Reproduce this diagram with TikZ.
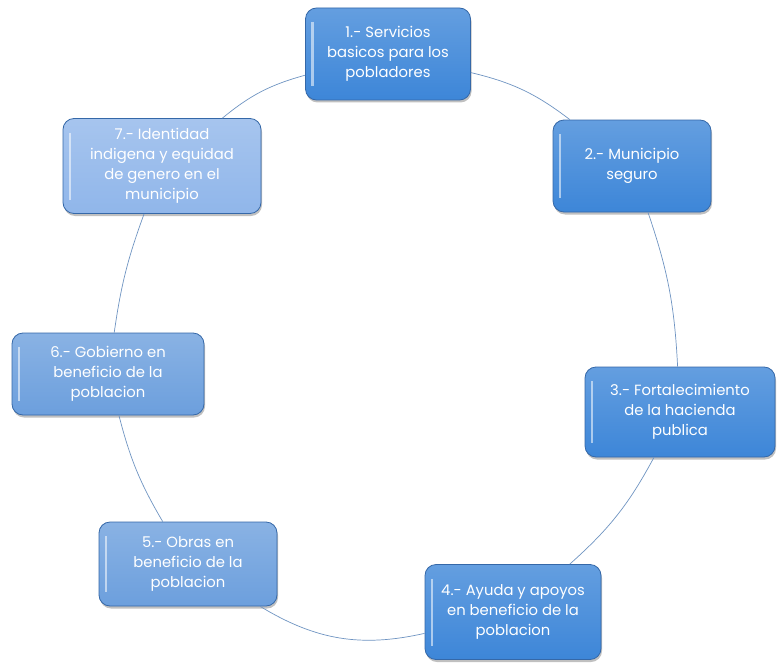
\documentclass[tikz,border=0pt]{standalone}
\usepackage{fontspec}
\setmainfont{Poppins}
\usetikzlibrary{shadows}
\definecolor{bdark}{HTML}{3D86D8}
\definecolor{bmid}{HTML}{6C9FDD}
\definecolor{blight}{HTML}{90B6EA}
\definecolor{bedge}{HTML}{3568A8}
\definecolor{linkc}{HTML}{6F94C2}
\tikzset{
  stepbox/.style={rounded corners=11pt, draw=bedge, line width=0.8pt,
    text=white, align=center, inner sep=4pt,
    font=\fontsize{14.8}{20}\selectfont,
    drop shadow={shadow xshift=1pt, shadow yshift=-2.5pt, opacity=.35, fill=black!70},
    path picture={\draw[white, opacity=.55, line width=2.5pt]
      ([xshift=7pt,yshift=-14pt]path picture bounding box.north west) --
      ([xshift=7pt,yshift=14pt]path picture bounding box.south west);}},
  darkbox/.style={stepbox, top color=bdark!80!white, bottom color=bdark},
  midbox/.style={stepbox, top color=bmid!80!white, bottom color=bmid},
  lightbox/.style={stepbox, top color=blight!80!white, bottom color=blight},
  link/.style={draw=linkc, line width=0.7pt}
}
\begin{document}
\begin{tikzpicture}[x=1pt,y=-1pt]
\useasboundingbox (0,0) rectangle (778,666);
\fill[white] (0,0) rectangle (778,666);
\path (388,54)  coordinate (c1) (632,166) coordinate (c2) (680,412) coordinate (c3)
      (513,612) coordinate (c4) (188,564) coordinate (c5) (108,374) coordinate (c6)
      (162,166) coordinate (c7);
\node[darkbox, minimum width=165pt, minimum height=92pt] (n1) at (c1)
  {1.- Servicios\\basicos para los\\pobladores};
\node[darkbox, minimum width=158pt, minimum height=92pt] (n2) at (c2)
  {2.- Municipio\\seguro};
\node[darkbox, minimum width=190pt, minimum height=90pt] (n3) at (c3)
  {3.- Fortalecimiento\\de la hacienda\\publica};
\node[darkbox, minimum width=176pt, minimum height=95pt] (n4) at (c4)
  {4.- Ayuda y apoyos\\en beneficio de la\\poblacion};
\node[midbox, minimum width=178pt, minimum height=84pt] (n5) at (c5)
  {5.- Obras en\\beneficio de la\\poblacion};
\node[midbox, minimum width=192pt, minimum height=82pt] (n6) at (c6)
  {6.- Gobierno en\\beneficio de la\\poblacion};
\node[lightbox, minimum width=198pt, minimum height=95pt] (n7) at (c7)
  {7.- Identidad\\indigena y equidad\\de genero en el\\municipio};
\draw[link] (n1) to[bend left=12] (n2);
\draw[link] (n2) to[bend left=8] (n3);
\draw[link] (n3) to[bend left=10] (n4);
\draw[link] (n4) to[bend left=22] (n5);
\draw[link] (n5) to[bend left=8] (n6);
\draw[link] (n6) to[bend left=6] (n7);
\draw[link] (n7) to[bend left=12] (n1);
\end{tikzpicture}
\end{document}
